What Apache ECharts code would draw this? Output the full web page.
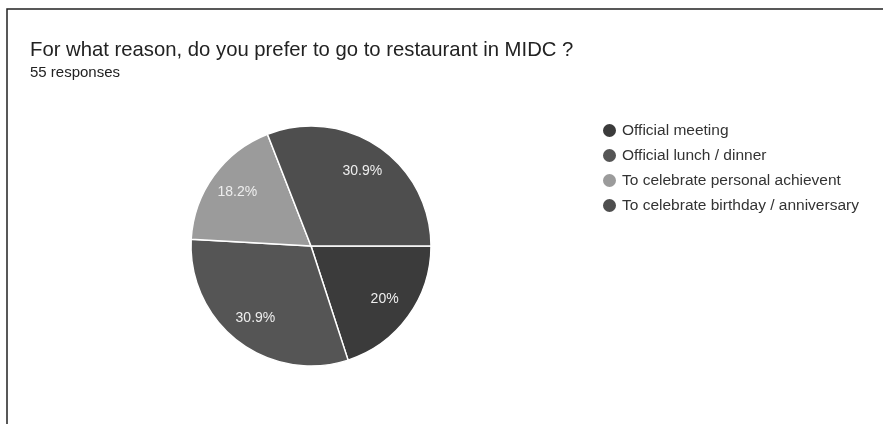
<!DOCTYPE html>
<html>
<head>
<meta charset="utf-8">
<script src="https://cdn.jsdelivr.net/npm/echarts@6/dist/echarts.min.js"></script>
<style>
  html, body { margin: 0; padding: 0; background: #fff; }
  #main { width: 883px; height: 424px; }
</style>
</head>
<body>
<div id="main"></div>
<script>
var categories = ['Official meeting', 'Official lunch / dinner', 'To celebrate personal achievent', 'To celebrate birthday / anniversary'];
var counts = [11, 17, 10, 17];
var colors = ['#3b3b3b', '#555555', '#9b9b9b', '#4e4e4e'];

var myChart = echarts.init(document.getElementById('main'));

var pieData = [];
for (var i = 0; i < categories.length; i++) {
    pieData.push({ name: categories[i], value: counts[i], itemStyle: { color: colors[i] } });
}

var option = {
    animation: false,
    backgroundColor: '#fff',
    title: [{
        text: 'For what reason, do you prefer to go to restaurant in MIDC ?',
        left: 25, top: 35,
        textStyle: { fontFamily: 'Liberation Sans', fontSize: 20.3, fontWeight: 'normal', color: '#222' }
    }, {
        text: '55 responses',
        left: 25, top: 60,
        textStyle: { fontFamily: 'Liberation Sans', fontSize: 15, fontWeight: 'normal', color: '#222' }
    }],
    legend: {
        orient: 'vertical',
        left: 596, top: 117,
        icon: 'circle',
        itemWidth: 15, itemHeight: 15,
        itemGap: 8,
        data: categories,
        textStyle: { fontFamily: 'Liberation Sans', fontSize: 15.5, color: '#333' }
    },
    graphic: [{
        type: 'rect',
        shape: { x: 7, y: 9, width: 900, height: 450 },
        style: { fill: 'none', stroke: '#222', lineWidth: 1.5 },
        silent: true
    }],
    series: [{
        type: 'pie',
        center: [311, 246],
        radius: [0, 120],
        startAngle: 0,
        clockwise: true,
        label: { show: false },
        labelLine: { show: false },
        itemStyle: { borderColor: '#fff', borderWidth: 1.5 },
        data: pieData
    }, {
        type: 'pie',
        center: [311, 246],
        radius: [56, 120],
        startAngle: 0,
        clockwise: true,
        silent: true,
        legendHoverLink: false,
        itemStyle: { color: 'rgba(0,0,0,0)' },
        label: {
            show: true,
            position: 'inside',
            formatter: function (p) { return parseFloat(p.percent.toFixed(1)) + '%'; },
            fontFamily: 'Liberation Sans', fontSize: 14, color: '#eee'
        },
        labelLine: { show: false },
        data: pieData.map(function (d) { return { name: d.name, value: d.value }; })
    }]
};
myChart.setOption(option);
</script>
</body>
</html>
